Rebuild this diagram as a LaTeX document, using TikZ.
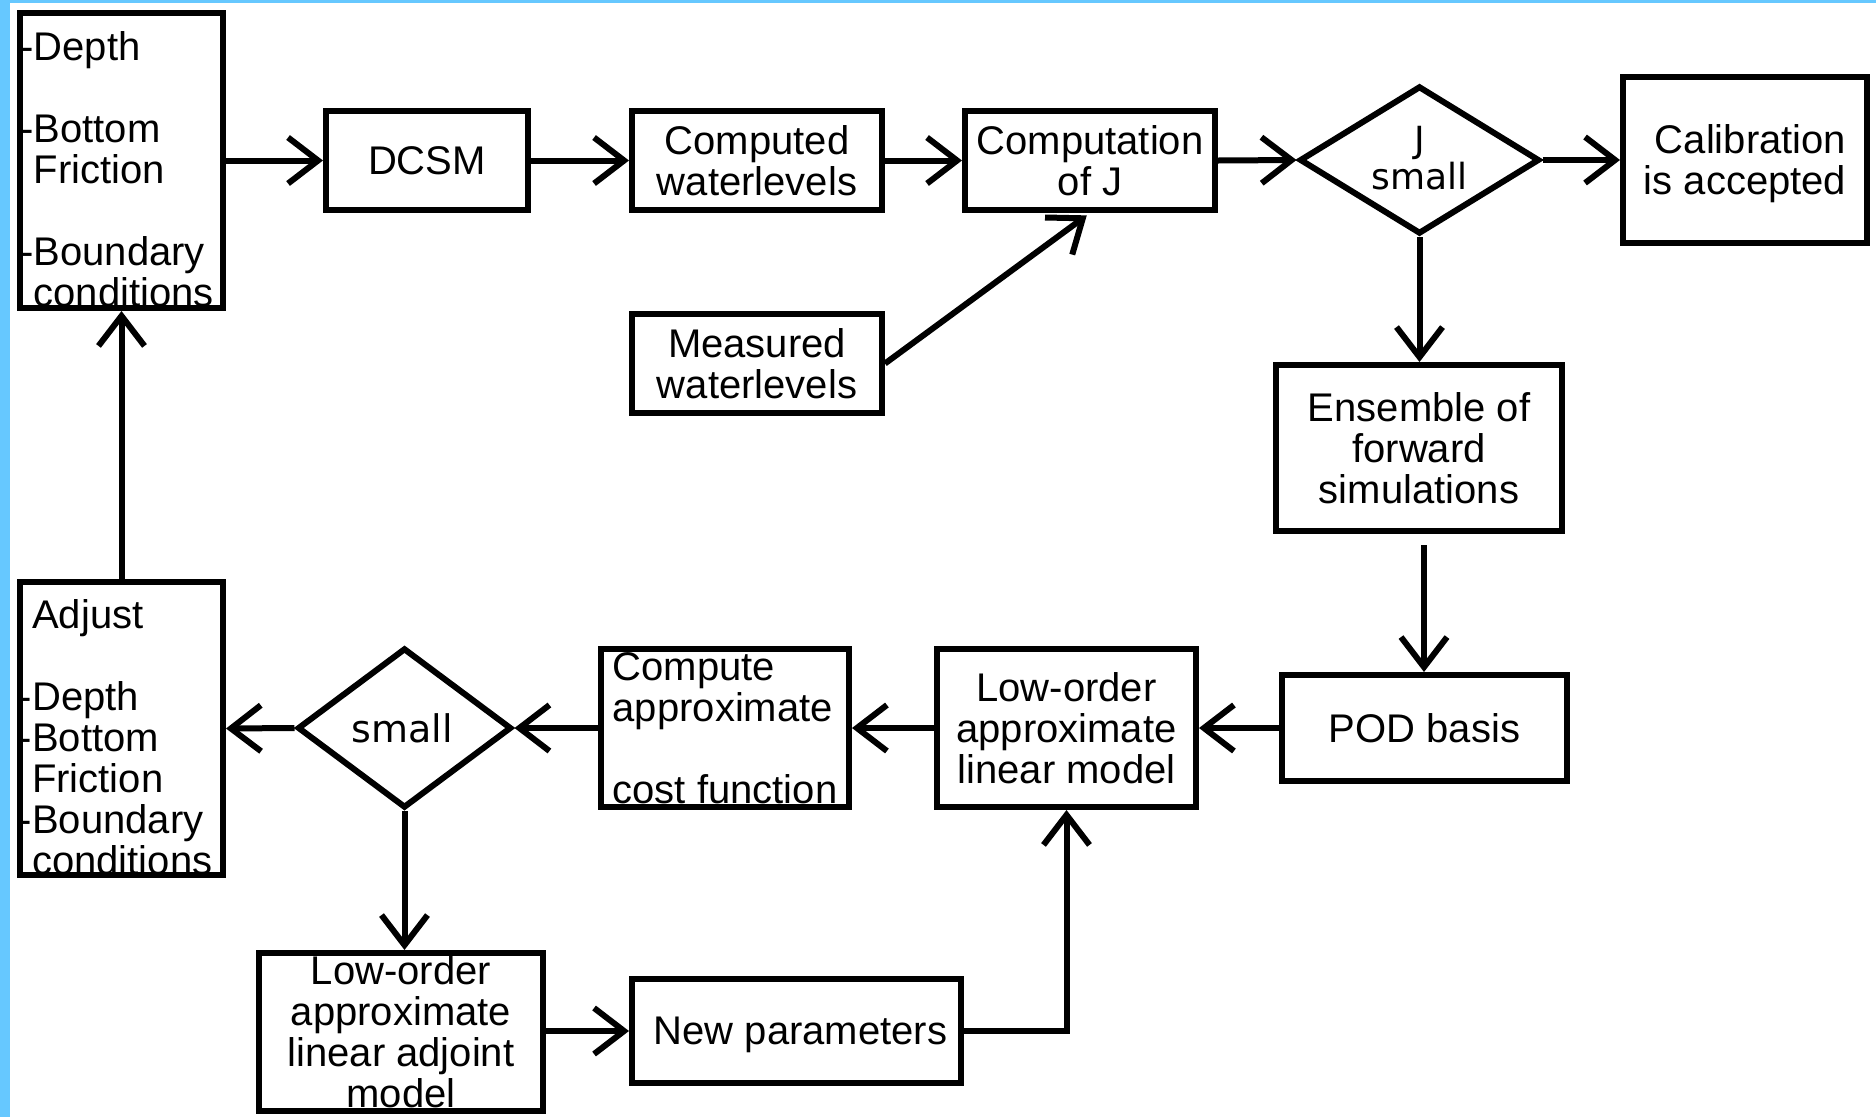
\documentclass[tikz,border=0pt]{standalone}
\usepackage{fontspec}
\setmainfont{Liberation Sans}
\newfontfamily\dvfont{DejaVu Sans}
\usetikzlibrary{arrows.meta,shapes.geometric}
\newcommand\mainf{\fontsize{40}{41}\selectfont}
\newcommand\diaf{\dvfont\fontsize{36}{37}\selectfont}
\definecolor{edgeblue}{RGB}{102,200,255}
\tikzset{
  box/.style={draw, line width=6pt, rectangle, inner sep=0pt, align=center, font=\mainf},
  dia/.style={draw, line width=6pt, diamond, inner sep=0pt},
  arr/.style={line width=6pt, -{Straight Barb[length=30pt,width=46pt]}},
  plain/.style={inner sep=0pt, font=\mainf},
}
\begin{document}
\begin{tikzpicture}[x=1pt,y=-1pt]
\fill[white] (0,0) rectangle (1876,1117);
\useasboundingbox (0,0) rectangle (1876,1117);
\fill[edgeblue] (0,0) rectangle (10,1117);
\fill[edgeblue] (0,0) rectangle (1876,3);

% top row
\node[box, minimum width=203, minimum height=295] (inp) at (121.5,160.5) {};
\node[plain, anchor=west, align=left] (inptxt) at (33.5,169) {\llap{-}Depth\\\mbox{}\\\llap{-}Bottom\\Friction\\\mbox{}\\\llap{-}Boundary\\conditions};
\node[box, minimum width=202, minimum height=99] (dcsm) at (427,160.5) {DCSM};
\node[box, minimum width=250, minimum height=99] (cw) at (757,160.5) {Computed\\waterlevels};
\node[box, minimum width=250, minimum height=99] (cj) at (1090,160.5) {Computation\\of J};
\node[dia, minimum width=240, minimum height=148] (d1) at (1419.5,160) {};
\node[plain, font=\diaf, align=center] (d1t) at (1419.5,158.5) {J\\small};
\node[box, minimum width=244, minimum height=166, align=right, text depth=0pt] (cal) at (1745,160) {Calibration\\is accepted};
\node[box, minimum width=250, minimum height=99] (meas) at (757,363.5) {Measured\\waterlevels};

% right column
\node[box, minimum width=286, minimum height=166] (ens) at (1419,448) {Ensemble of\\forward\\simulations};
\node[box, minimum width=285, minimum height=106] (pod) at (1424.5,728) {POD basis};

% bottom row
\node[box, minimum width=259, minimum height=158] (low) at (1066.5,728) {Low-order\\approximate\\linear model};
\node[box, minimum width=248, minimum height=158, align=left] (cc) at (725,728) {Compute\\approximate\\\mbox{}\\cost function};
\node[dia, minimum width=214, minimum height=160] (d2) at (404.5,728) {};
\node[plain, font=\dvfont\fontsize{38}{39}\selectfont] (d2t) at (402,728) {small};
\node[box, minimum width=203, minimum height=293] (adj) at (121.5,728.5) {};
\node[plain, anchor=west, align=left] (adjtxt) at (32,737) {Adjust\\\mbox{}\\\llap{-}Depth\\\llap{-}Bottom\\Friction\\\llap{-}Boundary\\conditions};
\node[box, minimum width=284, minimum height=158] (ad) at (401,1032) {Low-order\\approximate\\linear adjoint\\model};
\node[box, minimum width=329, minimum height=104, text depth=0pt] (np) at (796.5,1031) {\hspace*{8pt}New parameters};

\coordinate (es) at (1424,545);

% connectors
\draw[arr] (inp.east) -- (dcsm.west);
\draw[arr] (dcsm.east) -- (cw.west);
\draw[arr] (cw.east) -- (cj.west);
\draw[arr] (cj.east) -- (d1.west);
\draw[arr] (d1.east) -- (cal.west);
\draw[arr, shorten >=4pt] (meas.east) -- (cj.south);
\draw[arr] (d1.south) -- (d1.south |- ens.north);
\draw[arr] (es) -- (es |- pod.north);
\draw[arr] (pod.west) -- (low.east);
\draw[arr] (low.west) -- (cc.east);
\draw[arr] (cc.west) -- (d2.east);
\draw[arr] (d2.west) -- (adj.east);
\draw[arr] (d2.south) -- (d2.south |- ad.north);
\draw[arr] (ad.east |- np.west) -- (np.west);
\draw[arr] (np.east) -- (np.east -| low.south) -- (low.south);
\draw[arr] (adj.north) -- (inp.south);
\end{tikzpicture}
\end{document}
